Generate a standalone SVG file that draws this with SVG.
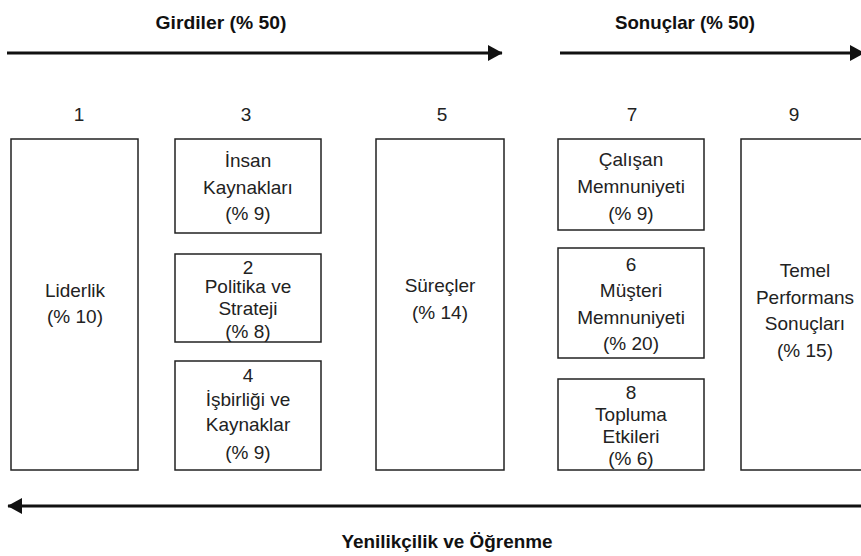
<svg xmlns="http://www.w3.org/2000/svg" width="861" height="556" viewBox="0 0 861 556">
<style>
.box{fill:#fff;stroke:#222;stroke-width:1.5}
.t{font-family:"Liberation Sans",Arial,sans-serif;font-size:19px;fill:#222;text-anchor:middle}
.h{font-family:"Liberation Sans",Arial,sans-serif;font-size:19px;font-weight:bold;fill:#111;text-anchor:middle}
.ar{stroke:#111;stroke-width:3;fill:none}
</style>
<defs>
<marker id="ah" markerWidth="5" markerHeight="5.4" refX="4.8" refY="2.7" orient="auto" markerUnits="strokeWidth">
<path d="M0,0 L5,2.7 L0,5.4 Z" fill="#111"/>
</marker>
</defs>
<rect width="861" height="556" fill="#fff"/>
<g id="connectors">
<line class="ar" x1="7" y1="53" x2="502" y2="53" marker-end="url(#ah)"/>
<line class="ar" x1="560" y1="53" x2="864" y2="53" marker-end="url(#ah)"/>
<line class="ar" x1="861" y1="506" x2="8" y2="506" marker-end="url(#ah)"/>
</g>
<g id="labels">
<text class="h" x="221" y="29" textLength="131" lengthAdjust="spacingAndGlyphs">Girdiler (% 50)</text>
<text class="h" x="685" y="29" textLength="140" lengthAdjust="spacingAndGlyphs">Sonuçlar (% 50)</text>
<text class="h" x="447" y="548" textLength="211" lengthAdjust="spacingAndGlyphs">Yenilikçilik ve Öğrenme</text>
<text class="t" x="79" y="121">1</text>
<text class="t" x="246" y="121">3</text>
<text class="t" x="442" y="121">5</text>
<text class="t" x="632" y="121">7</text>
<text class="t" x="794" y="121">9</text>
</g>
<g id="liderlik">
<rect class="box" x="11" y="139" width="127" height="331"/>
<text class="t" x="75" y="297">Liderlik</text>
<text class="t" x="75" y="323">(% 10)</text>
</g>
<g id="insan">
<rect class="box" x="175" y="139" width="146" height="94"/>
<text class="t" x="248" y="167">İnsan</text>
<text class="t" x="248" y="194">Kaynakları</text>
<text class="t" x="248" y="220">(% 9)</text>
</g>
<g id="politika">
<rect class="box" x="175" y="254" width="146" height="88"/>
<text class="t" x="248" y="274">2</text>
<text class="t" x="248" y="293">Politika ve</text>
<text class="t" x="248" y="315">Strateji</text>
<text class="t" x="248" y="338">(% 8)</text>
</g>
<g id="isbirligi">
<rect class="box" x="175" y="361" width="146" height="109"/>
<text class="t" x="248" y="382">4</text>
<text class="t" x="248" y="406">İşbirliği ve</text>
<text class="t" x="248" y="431">Kaynaklar</text>
<text class="t" x="248" y="459">(% 9)</text>
</g>
<g id="surecler">
<rect class="box" x="376" y="139" width="128" height="331"/>
<text class="t" x="440" y="292">Süreçler</text>
<text class="t" x="440" y="319">(% 14)</text>
</g>
<g id="calisan">
<rect class="box" x="558" y="139" width="146" height="91"/>
<text class="t" x="631" y="166">Çalışan</text>
<text class="t" x="631" y="193">Memnuniyeti</text>
<text class="t" x="631" y="220">(% 9)</text>
</g>
<g id="musteri">
<rect class="box" x="558" y="248" width="146" height="110"/>
<text class="t" x="631" y="271">6</text>
<text class="t" x="631" y="297">Müşteri</text>
<text class="t" x="631" y="324">Memnuniyeti</text>
<text class="t" x="631" y="350">(% 20)</text>
</g>
<g id="topluma">
<rect class="box" x="558" y="379" width="146" height="91"/>
<text class="t" x="631" y="399">8</text>
<text class="t" x="631" y="421">Topluma</text>
<text class="t" x="631" y="443">Etkileri</text>
<text class="t" x="631" y="465">(% 6)</text>
</g>
<g id="temel">
<rect class="box" x="741" y="139" width="130" height="331"/>
<text class="t" x="805" y="277">Temel</text>
<text class="t" x="805" y="304">Performans</text>
<text class="t" x="805" y="330">Sonuçları</text>
<text class="t" x="805" y="357">(% 15)</text>
</g>
</svg>
